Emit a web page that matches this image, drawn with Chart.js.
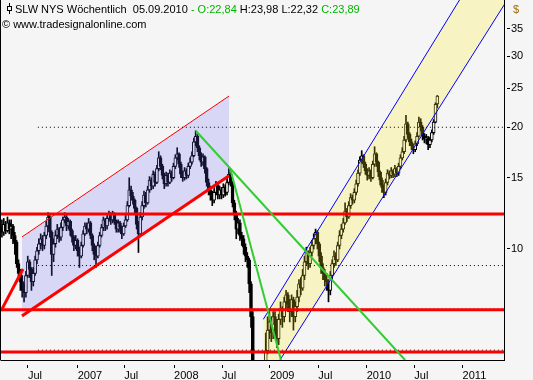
<!DOCTYPE html>
<html><head><meta charset="utf-8">
<script src="https://cdn.jsdelivr.net/npm/chart.js@4.4.0/dist/chart.umd.min.js"></script>
<style>html,body{margin:0;padding:0;background:#f5f5f5;}</style>
</head><body>
<canvas id="c" width="533" height="380"></canvas>
<script>
// ---- weekly OHLC (week index 0 .. 236, last bar = 05.09.2010) ----
const openP = [
11.3,11.0,11.5,11.1,11.6,11.2,11.4,10.8,10.4,9.2, 8.7,8.3,7.9,7.8,8.6,9.3,8.9,8.3,8.7,9.4,
9.9,10.3,10.6,10.2,10.8,11.4,12.0,11.0,9.7,10.3, 10.8,11.2,10.7,11.3,11.8,12.0,11.4,11.7,11.1,10.7,
10.2,10.5,9.9,9.6,10.2,10.9,11.4,11.2,11.6,10.8, 10.2,9.7,9.6,10.2,10.8,11.3,11.8,11.4,11.9,12.2,
11.8,12.2,11.7,11.2,11.6,11.3,10.9,11.4,11.8,12.8, 14.0,13.5,13.2,12.6,11.5,10.9,12.0,12.8,13.6,13.0,
14.0,14.8,14.3,15.3,14.6,15.8,16.8,16.0,15.2,14.5, 15.2,14.6,15.4,15.0,16.0,16.8,17.2,16.2,15.3,15.0,
15.6,15.2,16.0,16.4,17.0,18.4,19.0,17.8,17.0,16.4, 16.9,15.8,14.6,14.0,13.6,13.2,13.8,14.4,13.6,14.0,
13.6,14.2,13.8,14.6,15.3,14.6,13.0,12.2,11.2,11.6, 10.8,10.6,10.1,9.6,9.4,8.2,6.8,4.8,3.6,3.2,
3.5,4.0,4.5,5.0,5.6,6.3,6.6,6.2,6.8,6.5, 6.0,6.7,7.1,6.8,7.4,7.7,7.3,7.0,7.5,6.8,
7.2,7.6,8.2,8.0,8.6,9.3,9.8,9.2,9.8,10.2, 10.6,11.0,10.3,9.6,9.0,8.7,8.4,8.3,7.9,8.6,
9.2,9.6,9.4,10.2,10.8,11.2,11.6,12.4,12.0,12.8, 13.4,13.2,13.8,14.5,15.4,16.6,17.0,16.2,15.6,15.2,
15.6,15.0,16.2,17.2,16.4,15.5,14.8,14.2,13.8,14.6, 15.4,15.2,15.6,15.3,15.8,15.4,16.0,16.8,17.4,18.6,
20.4,19.2,18.4,18.0,17.6,18.2,19.0,20.6,20.0,19.0, 18.7,18.8,18.1,18.6,19.4,20.6,22.84
];
const highP = [
11.8,11.9,11.7,12.0,11.8,11.8,11.5,11.0,10.5,9.4, 8.9,8.6,8.2,8.8,9.6,9.4,9.0,9.0,9.6,10.1,
10.6,10.9,10.8,11.0,11.7,12.3,12.1,11.1,10.6,11.1, 11.5,11.3,11.6,12.0,12.3,12.1,11.9,11.8,11.2,10.8,
10.8,10.6,10.1,10.4,11.1,11.6,11.6,11.9,11.7,10.9, 10.3,9.9,10.4,11.0,11.5,12.0,11.9,12.1,12.4,12.3,
12.4,12.3,11.8,11.8,11.7,11.4,11.6,12.1,13.1,15.0, 14.3,13.8,13.3,12.7,11.7,12.3,13.1,13.9,13.8,14.3,
15.1,15.0,15.6,15.5,16.1,17.4,17.0,16.2,15.4,15.5, 15.4,15.7,15.6,16.3,17.1,17.8,17.3,16.4,15.6,15.9,
15.8,16.3,16.8,17.4,18.8,19.6,19.2,18.0,17.3,17.2, 17.0,15.9,14.9,14.3,13.9,14.1,14.7,14.5,14.3,14.2,
14.5,14.4,14.9,15.8,15.5,14.7,13.2,12.4,11.9,11.8, 11.0,10.8,10.3,9.8,9.5,8.3,7.0,5.0,3.9,3.8,
4.3,4.8,5.3,6.2,6.8,7.0,6.8,7.0,7.0,6.7, 6.9,7.4,7.2,7.6,7.9,7.8,7.5,7.7,7.6,7.4,
7.9,8.4,8.5,8.9,9.6,10.1,9.9,10.1,10.5,10.9, 11.2,11.1,10.4,9.8,9.2,8.9,8.7,8.4,8.8,9.4,
9.9,9.8,10.4,11.1,11.5,11.9,13.0,12.6,13.1,13.7, 13.6,14.1,14.8,15.7,16.9,17.5,17.1,16.4,15.8,15.9,
15.7,16.5,17.9,17.3,16.5,15.6,15.0,14.4,14.9,15.7, 15.6,15.9,15.7,16.1,15.9,16.3,17.1,17.8,19.0,21.4,
20.6,19.4,18.7,18.2,18.5,19.4,21.2,21.0,20.2,19.3, 19.2,19.0,18.9,19.7,20.9,23.0,23.98
];
const lowP = [
10.7,10.8,10.9,11.0,10.9,10.6,10.3,9.7,9.0,8.4, 7.9,7.6,7.4,7.6,8.5,8.5,7.9,8.1,8.6,9.2,
9.7,10.0,9.9,10.0,10.6,11.2,10.7,8.6,9.3,10.1, 10.6,10.4,10.5,11.1,11.6,11.1,11.2,10.8,10.4,9.9,
10.0,9.6,9.0,9.5,10.1,10.8,10.9,11.0,10.6,9.9, 9.4,9.0,9.5,10.1,10.7,11.1,11.1,11.2,11.7,11.5,
11.6,11.5,11.0,11.0,11.0,10.6,10.8,11.3,11.7,12.7, 13.2,12.9,12.3,11.2,9.8,10.8,11.8,12.6,12.7,12.9,
13.8,14.0,14.1,14.3,14.5,15.6,15.7,14.9,14.1,14.3, 14.3,14.5,14.7,14.9,15.8,16.6,15.9,15.0,14.7,14.8,
14.9,15.0,15.8,16.2,16.9,18.0,17.4,16.6,16.0,16.1, 15.4,14.3,13.6,13.2,12.8,13.0,13.6,13.3,13.3,13.3,
13.4,13.5,13.6,14.4,14.3,12.7,11.8,10.6,10.9,10.5, 10.2,9.7,9.3,9.0,7.8,6.4,4.5,3.2,2.6,3.0,
3.3,3.8,4.3,4.9,5.5,6.0,5.9,6.0,6.2,5.7, 5.8,6.5,6.4,6.6,7.1,7.0,6.6,6.8,6.3,6.6,
7.0,7.4,7.7,7.9,8.4,9.1,8.9,9.0,9.6,10.0, 10.3,10.0,9.3,8.7,8.4,8.1,7.9,7.4,7.7,8.4,
9.0,9.1,9.3,10.0,10.6,11.0,11.5,11.7,11.9,12.6, 12.9,13.0,13.6,14.3,15.2,16.3,15.9,15.3,14.8,14.9,
14.7,14.9,16.0,16.0,15.1,14.4,13.8,13.4,13.6,14.4, 14.9,15.0,15.0,15.1,15.1,15.2,15.8,16.6,17.2,18.4,
18.8,18.0,17.6,17.2,17.4,18.0,18.9,19.6,18.6,18.3, 18.2,17.6,17.8,18.4,19.2,20.5,22.32
];
const closeP = [
11.0,11.5,11.1,11.6,11.2,11.4,10.8,10.4,9.2,8.7, 8.3,7.9,7.8,8.6,9.3,8.9,8.3,8.7,9.4,9.9,
10.3,10.6,10.2,10.8,11.4,12.0,11.0,9.7,10.3,10.8, 11.2,10.7,11.3,11.8,12.0,11.4,11.7,11.1,10.7,10.2,
10.5,9.9,9.6,10.2,10.9,11.4,11.2,11.6,10.8,10.2, 9.7,9.6,10.2,10.8,11.3,11.8,11.4,11.9,12.2,11.8,
12.2,11.7,11.2,11.6,11.3,10.9,11.4,11.8,12.8,14.0, 13.5,13.2,12.6,11.5,10.9,12.0,12.8,13.6,13.0,14.0,
14.8,14.3,15.3,14.6,15.8,16.8,16.0,15.2,14.5,15.2, 14.6,15.4,15.0,16.0,16.8,17.2,16.2,15.3,15.0,15.6,
15.2,16.0,16.4,17.0,18.4,19.0,17.8,17.0,16.4,16.9, 15.8,14.6,14.0,13.6,13.2,13.8,14.4,13.6,14.0,13.6,
14.2,13.8,14.6,15.3,14.6,13.0,12.2,11.2,11.6,10.8, 10.6,10.1,9.6,9.4,8.2,6.8,4.8,3.6,3.2,3.5,
4.0,4.5,5.0,5.6,6.3,6.6,6.2,6.8,6.5,6.0, 6.7,7.1,6.8,7.4,7.7,7.3,7.0,7.5,6.8,7.2,
7.6,8.2,8.0,8.6,9.3,9.8,9.2,9.8,10.2,10.6, 11.0,10.3,9.6,9.0,8.7,8.4,8.3,7.9,8.6,9.2,
9.6,9.4,10.2,10.8,11.2,11.6,12.4,12.0,12.8,13.4, 13.2,13.8,14.5,15.4,16.6,17.0,16.2,15.6,15.2,15.6,
15.0,16.2,17.2,16.4,15.5,14.8,14.2,13.8,14.6,15.4, 15.2,15.6,15.3,15.8,15.4,16.0,16.8,17.4,18.6,20.4,
19.2,18.4,18.0,17.6,18.2,19.0,20.6,20.0,19.0,18.7, 18.8,18.1,18.6,19.4,20.6,22.8,23.89
];

// ---- axes ----
const xTickWeeks  = [14.1, 41.1, 66.3, 93.3, 119.3, 145.3, 171.5, 197.7, 223.5, 249.7];
const xTickLabels = ['Jul', '2007', 'Jul', '2008', 'Jul', '2009', 'Jul', '2010', 'Jul', '2011'];
const yTicks = [10, 15, 20, 25, 30, 35];
const xMin = -0.5, xMax = 272.13;
const yMin = 5.314, yMax = 41.28;

// ---- drawn studies (week index, price) ----
const lavUpper  = [{x: 10.88, y: 10.71}, {x: 123.08, y: 23.89}];
const lavLower  = [{x: 10.88, y: 6.83},  {x: 123.08, y: 15.18}];
const leftRed   = [{x: -0.5,  y: 7.03},  {x: 11.42,  y: 8.92}];
const green1    = [{x: 105.19, y: 19.58}, {x: 218.5, y: 5.314}];
const green2    = [{x: 123.62, y: 15.86}, {x: 151.26, y: 5.314}];
const yelUpper  = [{x: 141.67, y: 6.70},  {x: 273.75, y: 64.1}];
const yelLower  = [{x: 141.67, y: 4.571}, {x: 273.75, y: 41.2}];
const redLevels    = [12.21, 7.07, 5.56];
const dottedLevels = [20.0, 9.10, 7.10, 5.62];
const dottedStart  = 19.5;

const BG = '#f5f5f5';
const weeks = closeP.map((_, i) => i);
const bodies = weeks.map(i => ({x: i, y: [openP[i], closeP[i]]}));
const wicks  = weeks.map(i => ({x: i, y: [lowP[i], highP[i]]}));
const bodyColors = weeks.map(i => closeP[i] >= openP[i] ? BG : '#000000');

function lineDs(data, color, width, order, extra) {
  return Object.assign({type: 'line', data, borderColor: color, borderWidth: width,
    pointRadius: 0, tension: 0, fill: false, order}, extra || {});
}

const datasets = [
  {type: 'bar', data: wicks, backgroundColor: '#000', borderWidth: 0, barThickness: 1, grouped: false, order: 10},
  {type: 'bar', data: bodies, backgroundColor: bodyColors, borderColor: '#000', borderWidth: 1,
   borderSkipped: false, barThickness: 3, grouped: false, order: 9},
];
// lavender channel
datasets.push(lineDs(lavLower, '#ff0000', 3, 4));
const lavLowerIdx = datasets.length - 1;
datasets.push(lineDs(lavUpper, '#ff0000', 1, 5, {fill: {target: lavLowerIdx}, backgroundColor: 'rgba(100,100,250,0.2)'}));
// yellow channel
datasets.push(lineDs(yelLower, '#0000ff', 1, 4));
const yelLowerIdx = datasets.length - 1;
datasets.push(lineDs(yelUpper, '#0000ff', 1, 5, {fill: {target: yelLowerIdx}, backgroundColor: 'rgba(255,235,20,0.22)'}));
// dotted levels
dottedLevels.forEach(v => datasets.push(lineDs([{x: dottedStart, y: v}, {x: xMax, y: v}], '#000', 1, 3, {borderDash: [1, 3]})));
// red levels
redLevels.forEach(v => datasets.push(lineDs([{x: xMin, y: v}, {x: xMax, y: v}], '#ff0000', 3, 2)));
datasets.push(lineDs(leftRed, '#ff0000', 3, 2));
// green lines
datasets.push(lineDs(green1, '#33cc33', 2, 1));
datasets.push(lineDs(green2, '#33cc33', 2, 1));

const decor = {
  id: 'decor',
  beforeDraw(chart) {
    const c = chart.ctx;
    c.save(); c.fillStyle = BG; c.fillRect(0, 0, chart.width, chart.height); c.restore();
  },
  afterDraw(chart) {
    const c = chart.ctx, a = chart.chartArea;
    c.save();
    c.strokeStyle = '#000'; c.lineWidth = 1;
    c.beginPath(); c.moveTo(0.5, a.top); c.lineTo(0.5, a.bottom + 0.5); c.stroke();
    // header icon
    c.beginPath(); c.moveTo(9.5, 3); c.lineTo(9.5, 14); c.stroke();
    c.fillStyle = BG; c.fillRect(7.5, 6.5, 4, 4); c.strokeRect(7.5, 6.5, 4, 4);
    c.font = "11px 'Liberation Sans', Arial, sans-serif";
    c.textBaseline = 'alphabetic';
    const parts = [
      ['SLW NYS Wöchentlich  05.09.2010 ', '#000'],
      ['- O:22,84', '#00b400'],
      [' H:23,98 L:22,32 ', '#000'],
      ['C:23,89', '#00b400']
    ];
    let x = 15;
    parts.forEach(([t, col]) => { c.fillStyle = col; c.fillText(t, x, 13); x += c.measureText(t).width; });
    c.fillStyle = '#000';
    c.fillText('© www.tradesignalonline.com', 2, 28);
    c.fillStyle = '#a06a00';
    c.fillText('$', a.right + 9, 13);
    c.restore();
  }
};

new Chart(document.getElementById('c'), {
  data: {datasets},
  options: {
    responsive: false, animation: false, events: [],
    layout: {padding: {left: 1, top: 0, right: 0, bottom: 0}},
    plugins: {legend: {display: false}, tooltip: {enabled: false}},
    scales: {
      x: {
        type: 'linear', position: 'bottom', min: xMin, max: xMax, offset: false,
        grid: {display: true, drawOnChartArea: false, drawTicks: true, tickLength: 8, tickBorderDash: [0, 4, 4], color: '#000', offset: false},
        border: {display: true, color: '#000', width: 1},
        ticks: {autoSkip: false, maxRotation: 0, align: 'start', padding: 1, color: '#000',
          font: {family: "'Liberation Sans', Arial, sans-serif", size: 11},
          callback: (v, i) => xTickLabels[i]},
        afterBuildTicks: s => { s.ticks = xTickWeeks.map(v => ({value: v})); },
        afterFit: s => { s.height = 20; s.paddingLeft = 0; s.paddingRight = 0; }
      },
      y: {
        type: 'logarithmic', position: 'right', min: yMin, max: yMax,
        grid: {display: true, drawOnChartArea: false, drawTicks: true, tickLength: 6, tickBorderDash: [0, 2, 4], color: '#000'},
        border: {display: true, color: '#000', width: 1},
        ticks: {autoSkip: false, padding: 1, color: '#000',
          font: {family: "'Liberation Sans', Arial, sans-serif", size: 11},
          callback: v => String(v)},
        afterBuildTicks: s => { s.ticks = yTicks.map(v => ({value: v})); },
        afterFit: s => { s.width = 29; s.paddingTop = 0; s.paddingBottom = 0; }
      }
    }
  },
  plugins: [decor]
});
</script>
</body></html>
